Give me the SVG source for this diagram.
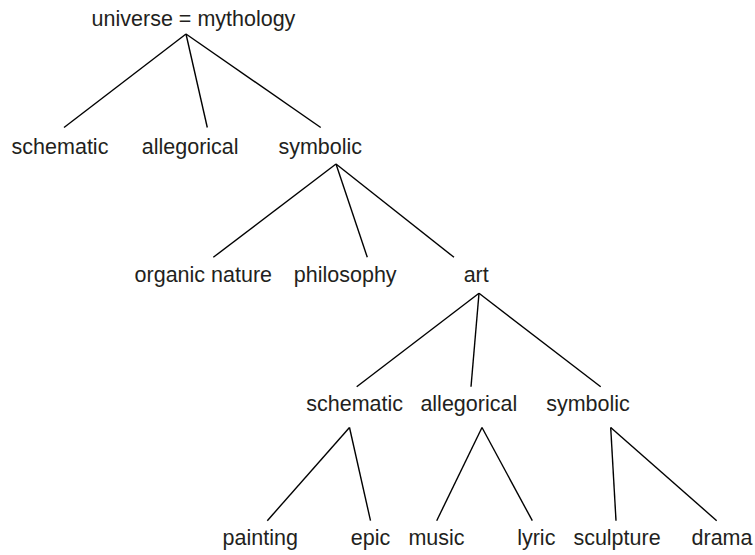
<svg xmlns="http://www.w3.org/2000/svg" width="755" height="555" viewBox="0 0 755 555">
<style>
text{font-family:"Liberation Sans",Arial,Helvetica,sans-serif;font-size:21.5px;fill:#231f20;text-anchor:middle}
.c line{stroke:#000;stroke-width:1.4;fill:none}
</style>
<rect width="755" height="555" fill="#fff"/>
<g class="c" id="connectors">
<line x1="186" y1="34" x2="64" y2="127.5"/>
<line x1="186" y1="34" x2="207.3" y2="127.5"/>
<line x1="186" y1="34" x2="320.7" y2="127.5"/>
<line x1="336" y1="164" x2="213.3" y2="257.3"/>
<line x1="336" y1="164" x2="367.3" y2="257.3"/>
<line x1="336" y1="164" x2="454" y2="257.3"/>
<line x1="479" y1="293.3" x2="356.7" y2="386.7"/>
<line x1="479" y1="293.3" x2="471" y2="386.7"/>
<line x1="479" y1="293.3" x2="600.7" y2="386.7"/>
<line x1="349.5" y1="427.5" x2="267.3" y2="520.7"/>
<line x1="349.5" y1="427.5" x2="370.5" y2="520.7"/>
<line x1="482" y1="427.5" x2="436.7" y2="520.7"/>
<line x1="482" y1="427.5" x2="532.3" y2="520.7"/>
<line x1="610.7" y1="427.5" x2="616" y2="520.7"/>
<line x1="610.7" y1="427.5" x2="716.7" y2="520.7"/>
</g>
<g id="root"><text x="193.5" y="26">universe = mythology</text></g>
<g id="schematic1"><text x="60" y="154">schematic</text></g>
<g id="allegorical1"><text x="190.2" y="154">allegorical</text></g>
<g id="symbolic1"><text x="320.2" y="154">symbolic</text></g>
<g id="organic"><text x="203.3" y="282">organic nature</text></g>
<g id="philosophy"><text x="345.2" y="282">philosophy</text></g>
<g id="art"><text x="476.2" y="282">art</text></g>
<g id="schematic2"><text x="354.7" y="411">schematic</text></g>
<g id="allegorical2"><text x="468.8" y="411">allegorical</text></g>
<g id="symbolic2"><text x="588" y="411">symbolic</text></g>
<g id="painting"><text x="260.2" y="545">painting</text></g>
<g id="epic"><text x="370.5" y="545">epic</text></g>
<g id="music"><text x="436.5" y="545">music</text></g>
<g id="lyric"><text x="536.3" y="545">lyric</text></g>
<g id="sculpture"><text x="617" y="545">sculpture</text></g>
<g id="drama"><text x="722" y="545">drama</text></g>
</svg>
